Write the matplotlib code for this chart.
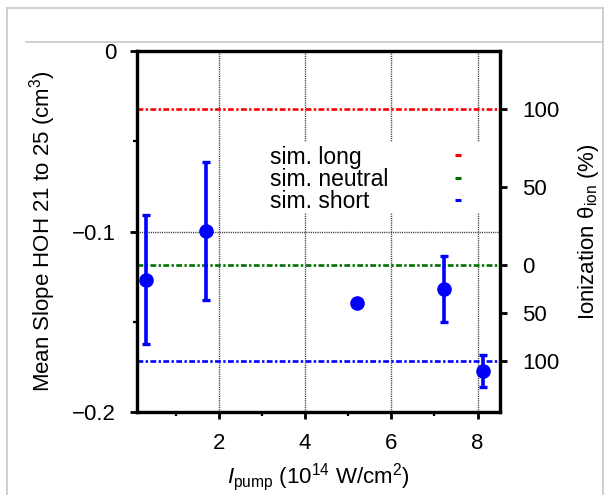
import matplotlib
matplotlib.use("Agg")
import matplotlib.pyplot as plt
from matplotlib.lines import Line2D
from matplotlib.patches import Rectangle


# measured slopes vs pump intensity
intensity = [0.32, 1.71, 5.21, 7.23, 8.12]
slope = [-0.1267, -0.0997, -0.1394, -0.1320, -0.1773]
err_low = [0.0358, 0.0384, 0.0020, 0.0181, 0.0088]
err_high = [0.0357, 0.0382, 0.0020, 0.0184, 0.0087]

# simulated reference levels
sim_names = ["sim. long", "sim. neutral", "sim. short"]
sim_levels = [-0.0323, -0.1187, -0.1720]
sim_colors = ["#ff0000", "#007000", "#0000ff"]

# ionization axis labels
ion_labels = ["100", "50", "0", "50", "100"]
ion_fracs = [1.0, 0.5, 0.0, 0.5, 1.0]

x_ticks = [2, 4, 6, 8]
y_ticks = [0, -0.1, -0.2]


plt.rcParams["font.family"] = ["Liberation Sans", "DejaVu Sans"]
plt.rcParams["mathtext.fontset"] = "custom"
plt.rcParams["mathtext.rm"] = "Liberation Sans"
plt.rcParams["mathtext.it"] = "Liberation Sans:italic"
plt.rcParams["font.size"] = 16

fig = plt.figure(figsize=(6.14, 4.95), dpi=100)
ax = fig.add_axes([137 / 614, 1 - 412 / 495, 363 / 614, 361 / 495])

# page frame lines
frame = "#c8c8c8"
fig.add_artist(Line2D([7 / 614, 603 / 614], [1 - 8 / 495, 1 - 8 / 495], color=frame, lw=1.2))
fig.add_artist(Line2D([7 / 614, 7 / 614], [0, 1 - 8 / 495], color=frame, lw=1.2))
fig.add_artist(Line2D([603 / 614, 603 / 614], [0, 1 - 8 / 495], color=frame, lw=1.2))
fig.add_artist(Line2D([26 / 614, 603 / 614], [1 - 42 / 495, 1 - 42 / 495], color=frame, lw=1.2))

ax.set_xlim(0.1, 8.52)
ax.set_ylim(-0.2, 0)

# grid
for xv in x_ticks:
    ax.axvline(xv, color="#333333", lw=1.0, ls=(0, (0.8, 0.8)), zorder=1)
ax.axhline(-0.1, color="#333333", lw=1.0, ls=(0, (0.8, 0.8)), zorder=1)

# legend box hides grid
ax.add_patch(Rectangle((0.344, 0.551), 0.634, 0.197, transform=ax.transAxes,
                       facecolor="white", edgecolor="none", zorder=2))

# simulation lines
for name, level, col in zip(sim_names, sim_levels, sim_colors):
    ax.axhline(level, color=col, lw=1.9, ls=(0, (2.2, 0.9, 0.9, 0.9)), zorder=3)

ax.errorbar(intensity, slope, yerr=[err_low, err_high], fmt="o", color="#0000ff",
            markersize=9.5, elinewidth=2.6, capsize=3, capthick=2.4, zorder=4)

# legend, gnuplot style: text left, sample right
leg_y = [0.706, 0.643, 0.582]
for name, col, yy in zip(sim_names, sim_colors, leg_y):
    ax.text(0.366, yy, name, transform=ax.transAxes, va="center", ha="left",
            fontsize=16.5, zorder=5)
    ax.plot([0.876, 0.893], [yy + 0.005, yy + 0.005], transform=ax.transAxes,
            color=col, lw=2.2, solid_capstyle="butt", zorder=5)

ax.set_xticks(x_ticks)
ax.set_xticks([1, 3, 5, 7], minor=True)
ax.set_yticks(y_ticks)
ax.set_yticklabels(["0", "\u22120.1", "\u22120.2"])
ax.set_yticks([-0.05, -0.15], minor=True)
ax.tick_params(which="major", direction="out", length=5, width=2, pad=10)
ax.tick_params(which="minor", direction="out", length=3, width=1.6)
ax.tick_params(axis="y", which="both", right=False)
for sp in ax.spines.values():
    sp.set_linewidth(2.3)

ax.set_xlabel("$I_{\\mathrm{pump}}$ (10$^{14}$ W/cm$^{2}$)", labelpad=5)
ax.set_ylabel("Mean Slope HOH 21 to 25 (cm$^{3}$)", labelpad=10)

# ionization axis on the right
neutral = sim_levels[1]
ion_pos = []
for i, f in enumerate(ion_fracs):
    end = sim_levels[0] if i < 2 else sim_levels[2]
    ion_pos.append(neutral + f * (end - neutral))

ax2 = ax.twinx()
ax2.set_ylim(ax.get_ylim())
ax2.set_yticks(ion_pos)
ax2.set_yticklabels(ion_labels)
ax2.tick_params(direction="out", length=5, width=2, pad=11)
for sp in ax2.spines.values():
    sp.set_linewidth(2.3)
ax2.set_ylabel("Ionization \u03b8$_{\\mathrm{ion}}$ (%)", labelpad=12)

fig.savefig("out.png", dpi=100)
